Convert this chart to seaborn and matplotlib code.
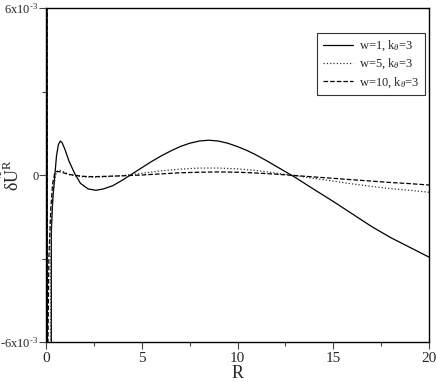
import numpy as np
import pandas as pd
import matplotlib
matplotlib.use("Agg")
import matplotlib.pyplot as plt
import seaborn as sns

# ---- data (values in units of 1e-3) ----
r_w1 = [0.03, 0.09, 0.24, 0.28, 0.35, 0.45, 0.55, 0.65, 0.75, 0.85, 1.0, 1.2, 1.5, 1.8, 2.2, 2.6,
        3.0, 3.5, 4.0, 4.5, 5.0, 5.5, 6.0, 6.5, 7.0, 7.5, 8.0, 8.5, 9.0, 9.5, 10.0, 10.5, 11.0,
        11.5, 12.0, 12.5, 13.0, 13.5, 14.0, 15.0, 16.0, 17.0, 18.0, 19.0, 20.0]
v_w1 = [40, -40, -40, -2.0, -0.9, -0.1, 0.7, 1.1, 1.22, 1.15, 0.9, 0.5, 0.05, -0.3, -0.5, -0.55,
        -0.5, -0.38, -0.18, 0.04, 0.26, 0.48, 0.68, 0.86, 1.02, 1.14, 1.22, 1.25, 1.22, 1.14, 1.02,
        0.88, 0.71, 0.52, 0.32, 0.12, -0.08, -0.3, -0.52, -0.95, -1.4, -1.85, -2.25, -2.6, -2.95]

r_w5 = [0.03, 0.09, 0.2, 0.25, 0.3, 0.4, 0.5, 0.6, 0.7, 0.9, 1.2, 1.6, 2.0, 2.5, 3.0, 4.0, 5.0,
        6.0, 7.0, 8.0, 9.0, 10.0, 11.0, 12.0, 13.0, 14.0, 15.0, 16.0, 17.0, 18.0, 19.0, 20.0]
v_w5 = [40, -40, -40, -3.0, -1.5, -0.5, 0.0, 0.15, 0.18, 0.12, 0.02, -0.04, -0.07, -0.08, -0.07,
        -0.02, 0.06, 0.15, 0.21, 0.25, 0.25, 0.22, 0.16, 0.07, -0.02, -0.12, -0.22, -0.32, -0.41,
        -0.49, -0.55, -0.62]

r_w10 = [0.02, 0.07, 0.15, 0.25, 0.35, 0.45, 0.55, 0.7, 0.9, 1.2, 1.6, 2.0, 2.5, 3.0, 4.0, 5.0,
         6.0, 7.0, 8.0, 9.0, 10.0, 11.0, 12.0, 13.0, 14.0, 15.0, 16.0, 17.0, 18.0, 19.0, 20.0]
v_w10 = [40, -8, -3, -1.2, -0.3, 0.05, 0.12, 0.12, 0.08, 0.02, -0.02, -0.05, -0.06, -0.05, -0.03,
         0.0, 0.04, 0.08, 0.1, 0.11, 0.1, 0.07, 0.03, -0.02, -0.07, -0.12, -0.17, -0.22, -0.27,
         -0.31, -0.36]

labels = [r"w=1, k$_\theta$=3", r"w=5, k$_\theta$=3", r"w=10, k$_\theta$=3"]
x_ticks = [0, 5, 10, 15, 20]
y_ticks = [-6e-3, 0, 6e-3]
y_ticklabels = ["-6x10$^{\u2010 3}$", "0", "6x10$^{\u2010 3}$"]

sns.set_theme(style="white")
plt.rcParams["font.family"] = ["Liberation Serif", "DejaVu Serif"]
plt.rcParams["mathtext.fontset"] = "custom"
plt.rcParams["mathtext.rm"] = "Liberation Serif"
plt.rcParams["mathtext.it"] = "Liberation Serif:italic"
plt.rcParams["mathtext.bf"] = "Liberation Serif:bold"

fig = plt.figure(figsize=(4.36, 3.82), dpi=100)
ax = fig.add_axes([46 / 436, 1 - 342 / 382, 383 / 436, 334 / 382])

series = [(r_w1, v_w1, "-", "black"), (r_w5, v_w5, ":", "#333333"), (r_w10, v_w10, "--", "black")]
for (r, v, ls, c), lab in zip(series, labels):
    df = pd.DataFrame({"R": r, "U": np.array(v) * 1e-3})
    sns.lineplot(data=df, x="R", y="U", ax=ax, color=c, linestyle=ls, linewidth=0.9,
                 label=lab, sort=False, estimator=None)

ax.set_xlim(0, 20)
ax.set_ylim(-6e-3, 6e-3)
ax.set_xticks(x_ticks)
ax.set_xticks([2.5, 7.5, 12.5, 17.5], minor=True)
ax.set_yticks(y_ticks)
ax.set_yticklabels(y_ticklabels)
ax.set_yticks([-3e-3, 3e-3], minor=True)
ax.tick_params(which="major", direction="out", length=5, width=0.8, color="#444444",
               labelsize=11, pad=2, bottom=True, left=True)
ax.tick_params(axis="y", which="major", labelsize=9, pad=0.5)
ax.tick_params(which="minor", direction="out", length=3, width=0.8, color="#444444",
               bottom=True, left=True)
for s in ax.spines.values():
    s.set_color("black")
    s.set_linewidth(1.0)

ax.set_xlabel("R", fontsize=13, labelpad=0)
ax.set_ylabel(r"$\mathrm{\delta}\tilde{\mathrm{U}}^{\mathrm{R}}$", fontsize=13)
ax.yaxis.set_label_coords(-0.06, 0.5)

leg = ax.legend(loc="upper right", bbox_to_anchor=(0.99, 0.925), borderaxespad=0,
                fontsize=9, frameon=True, fancybox=False, handlelength=2.4,
                handletextpad=0.5, borderpad=0.45, labelspacing=0.3, edgecolor="black")
leg.get_frame().set_linewidth(0.8)

fig.savefig("out.png", dpi=100)
